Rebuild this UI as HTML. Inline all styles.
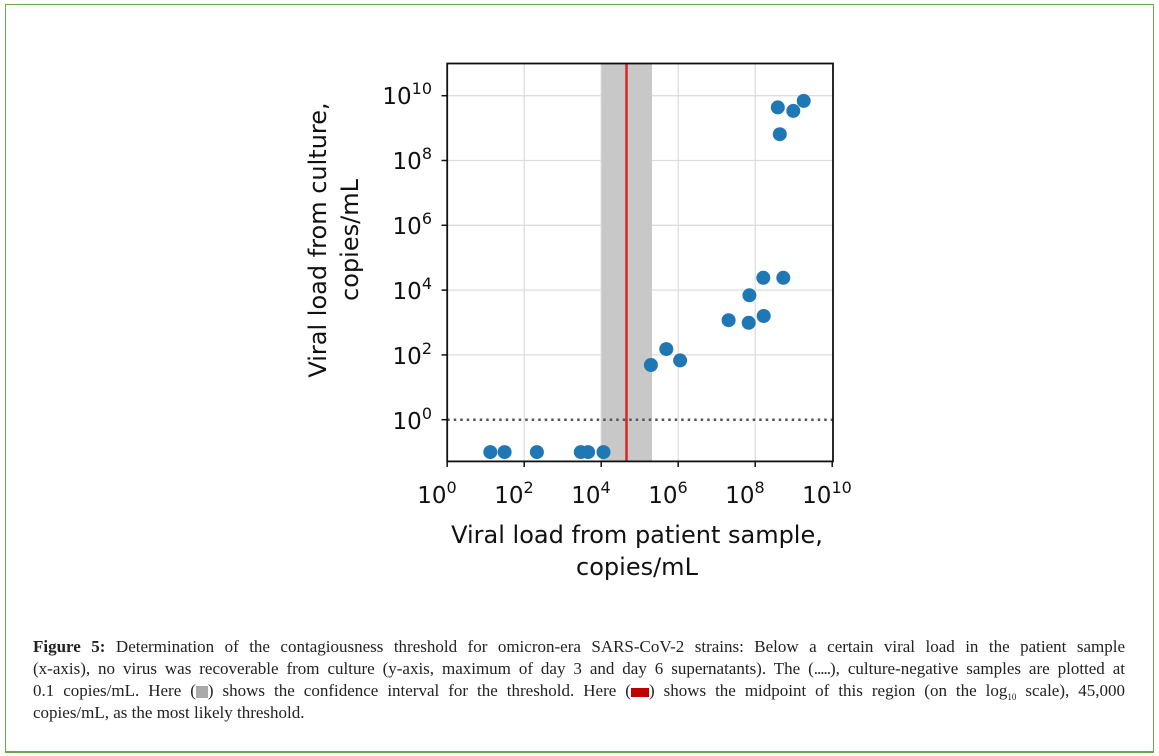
<!DOCTYPE html>
<html><head><meta charset="utf-8"><style>
html,body{margin:0;padding:0;background:#fff;}
body{width:1159px;height:756px;position:relative;overflow:hidden;}
.frame{position:absolute;left:5px;top:4px;width:1147px;height:746px;border:1px solid #6aa84f;border-width:1px 1px 2px 1px;}
.cap{position:absolute;left:33px;top:636px;width:1092px;font-family:"Liberation Serif",serif;font-size:17px;line-height:22px;color:#222;}
.cap div{text-align:justify;text-align-last:justify;white-space:nowrap;height:22px;}
.cap div.last{text-align-last:left;}
.cap b{font-weight:bold;}
.cap sub{font-size:9px;line-height:0;vertical-align:-4px;}
.sw{display:inline-block;width:16px;height:9px;vertical-align:middle;}
</style></head><body>
<div class="frame"></div>
<svg width="1159" height="756" style="position:absolute;left:0;top:0" font-family="DejaVu Sans, sans-serif">
<g stroke="#dddddd" stroke-width="1.3">
<line x1="524.2" y1="63.5" x2="524.2" y2="461.4"/>
<line x1="601.2" y1="63.5" x2="601.2" y2="461.4"/>
<line x1="678.2" y1="63.5" x2="678.2" y2="461.4"/>
<line x1="755.2" y1="63.5" x2="755.2" y2="461.4"/>
<line x1="447.2" y1="95.7" x2="833" y2="95.7"/>
<line x1="447.2" y1="160.5" x2="833" y2="160.5"/>
<line x1="447.2" y1="225.3" x2="833" y2="225.3"/>
<line x1="447.2" y1="290.1" x2="833" y2="290.1"/>
<line x1="447.2" y1="354.9" x2="833" y2="354.9"/>
</g>
<rect x="601.5" y="63.5" width="50.5" height="398" fill="#c8c8c8"/>
<line x1="626.5" y1="63.5" x2="626.5" y2="461.4" stroke="#d62728" stroke-width="2.5"/>
<line x1="447.2" y1="419.7" x2="833" y2="419.7" stroke="#555" stroke-width="2.5" stroke-dasharray="2.5,4"/>
<g fill="#1f77b4">
<circle cx="490.3" cy="452.1" r="7"/><circle cx="504.6" cy="452.1" r="7"/><circle cx="536.9" cy="452.1" r="7"/>
<circle cx="580.8" cy="452.1" r="7"/><circle cx="588.1" cy="452.1" r="7"/><circle cx="603.5" cy="452.1" r="7"/>
<circle cx="650.9" cy="365.0" r="7"/><circle cx="666.3" cy="349.1" r="7"/><circle cx="680.1" cy="360.4" r="7"/>
<circle cx="728.6" cy="320.2" r="7"/><circle cx="748.7" cy="322.8" r="7"/><circle cx="749.4" cy="295.3" r="7"/>
<circle cx="763.7" cy="316.0" r="7"/><circle cx="763.3" cy="277.8" r="7"/><circle cx="783.3" cy="277.8" r="7"/>
<circle cx="777.8" cy="107.4" r="7"/><circle cx="779.8" cy="134.2" r="7"/><circle cx="793.3" cy="110.9" r="7"/><circle cx="803.7" cy="100.9" r="7"/>
</g>
<rect x="447.2" y="63.5" width="385.8" height="397.9" fill="none" stroke="#111" stroke-width="1.8"/>
<g stroke="#111" stroke-width="1.5">
<line x1="447.2" y1="461.4" x2="447.2" y2="467"/><line x1="524.2" y1="461.4" x2="524.2" y2="467"/>
<line x1="601.2" y1="461.4" x2="601.2" y2="467"/><line x1="678.2" y1="461.4" x2="678.2" y2="467"/>
<line x1="755.2" y1="461.4" x2="755.2" y2="467"/><line x1="832.2" y1="461.4" x2="832.2" y2="467"/>
<line x1="441.5" y1="95.7" x2="447.2" y2="95.7"/><line x1="441.5" y1="160.5" x2="447.2" y2="160.5"/>
<line x1="441.5" y1="225.3" x2="447.2" y2="225.3"/><line x1="441.5" y1="290.1" x2="447.2" y2="290.1"/>
<line x1="441.5" y1="354.9" x2="447.2" y2="354.9"/><line x1="441.5" y1="419.7" x2="447.2" y2="419.7"/>
</g>
<g font-size="23" fill="#111" text-anchor="middle">
<text x="437" y="503">10<tspan font-size="16" dy="-10">0</tspan></text>
<text x="514" y="503">10<tspan font-size="16" dy="-10">2</tspan></text>
<text x="591" y="503">10<tspan font-size="16" dy="-10">4</tspan></text>
<text x="668" y="503">10<tspan font-size="16" dy="-10">6</tspan></text>
<text x="745" y="503">10<tspan font-size="16" dy="-10">8</tspan></text>
<text x="827" y="503">10<tspan font-size="16" dy="-10">10</tspan></text>
</g>
<g font-size="23" fill="#111" text-anchor="end">
<text x="432" y="104">10<tspan font-size="16" dy="-10">10</tspan></text>
<text x="432" y="169">10<tspan font-size="16" dy="-10">8</tspan></text>
<text x="432" y="234">10<tspan font-size="16" dy="-10">6</tspan></text>
<text x="432" y="299">10<tspan font-size="16" dy="-10">4</tspan></text>
<text x="432" y="364">10<tspan font-size="16" dy="-10">2</tspan></text>
<text x="432" y="429">10<tspan font-size="16" dy="-10">0</tspan></text>
</g>
<g font-size="24" fill="#111" text-anchor="middle">
<text x="637" y="543">Viral load from patient sample,</text>
<text x="637" y="575">copies/mL</text>
<text transform="translate(326,240) rotate(-90)">Viral load from culture,</text>
<text transform="translate(358,240) rotate(-90)">copies/mL</text>
</g>
</svg>
<div class="cap">
<div><b>Figure 5:</b> Determination of the contagiousness threshold for omicron-era SARS-CoV-2 strains: Below a certain viral load in the patient sample</div>
<div>(x-axis), no virus was recoverable from culture (y-axis, maximum of day 3 and day 6 supernatants). The (<span style="letter-spacing:-1px">.....</span>), culture-negative samples are plotted at</div>
<div>0.1 copies/mL. Here (<span class="sw" style="background:#aaa;width:12px;height:12px"></span>) shows the confidence interval for the threshold. Here (<span class="sw" style="background:#c00000;width:18px"></span>) shows the midpoint of this region (on the log<sub>10</sub> scale), 45,000</div>
<div class="last">copies/mL, as the most likely threshold.</div>
</div>
</body></html>
